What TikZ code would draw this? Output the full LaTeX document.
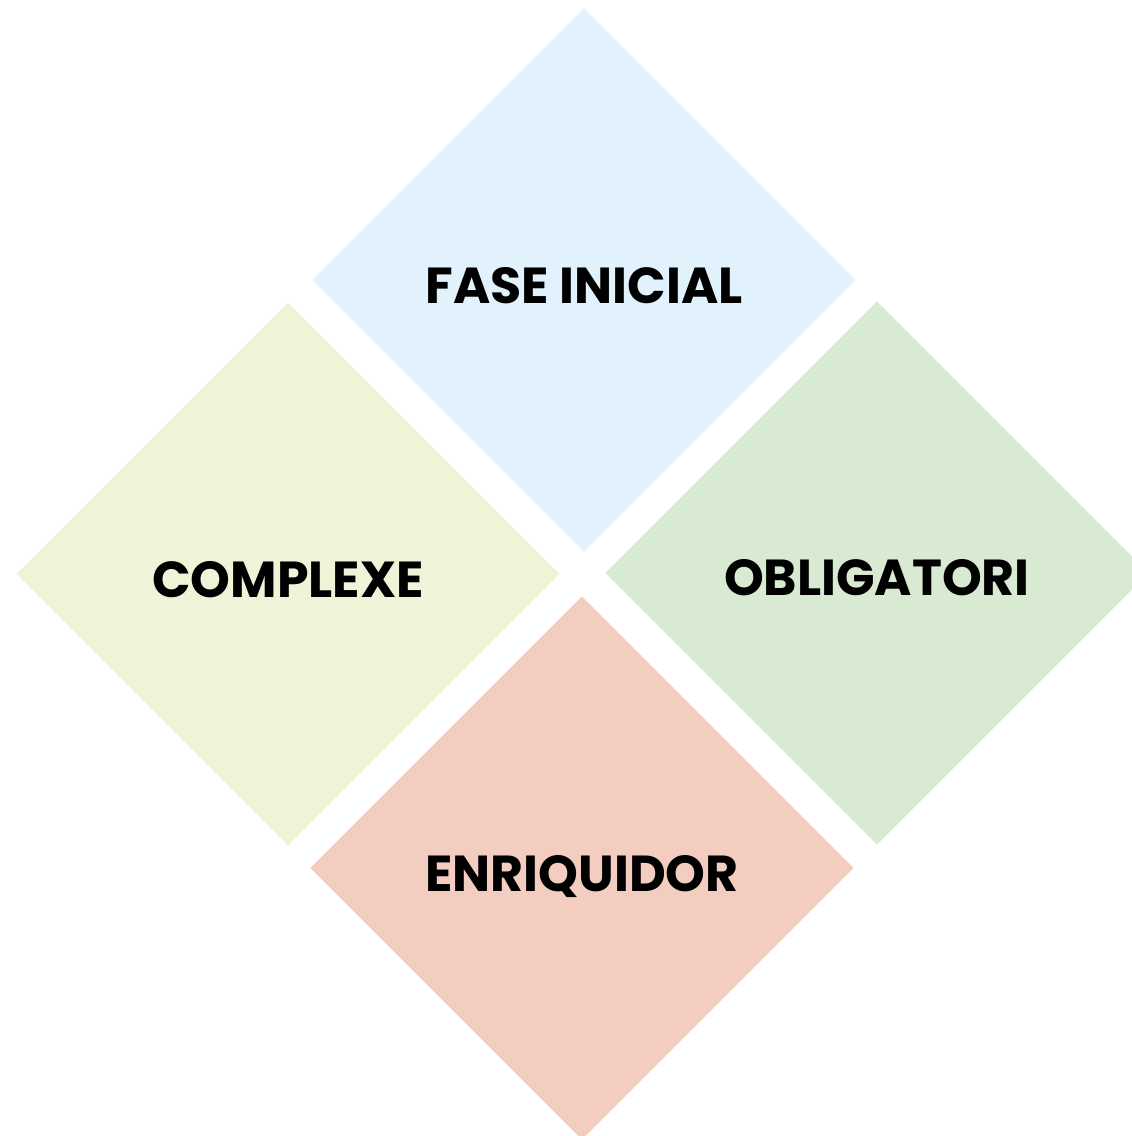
\documentclass[tikz,border=0pt]{standalone}
\usepackage{fontspec}
\setmainfont{Poppins}
\usetikzlibrary{shapes.geometric}
\definecolor{blauclar}{HTML}{E1F2FC}
\definecolor{verdgroc}{HTML}{EEF4D7}
\definecolor{verdclar}{HTML}{D9EAD3}
\definecolor{salmo}{HTML}{F3CEC0}
\tikzset{
	rombe/.style = {diamond, aspect = 1, inner sep = 0pt, minimum width = 5.44cm, minimum height = 5.44cm, text height = 0.46cm, text depth = 0cm, font = \fontsize{14.4}{17}\selectfont\bfseries, text = black}
}
\begin{document}
\begin{tikzpicture}
	% canvas
	\useasboundingbox (0, 0) rectangle (11.32, 11.36);
	\clip (0, 0) rectangle (11.32, 11.36);
	% the four diamonds
	\node[rombe, fill = blauclar] (fase) at (5.84, 8.56) {FASE INICIAL};
	\node[rombe, fill = verdgroc] (complexe) at (2.88, 5.62) {COMPLEXE};
	\node[rombe, fill = verdclar] (oblig) at (8.77, 5.63) {OBLIGATORI};
	\node[rombe, fill = salmo] (enriq) at (5.82, 2.68) {ENRIQUIDOR};
\end{tikzpicture}
\end{document}
